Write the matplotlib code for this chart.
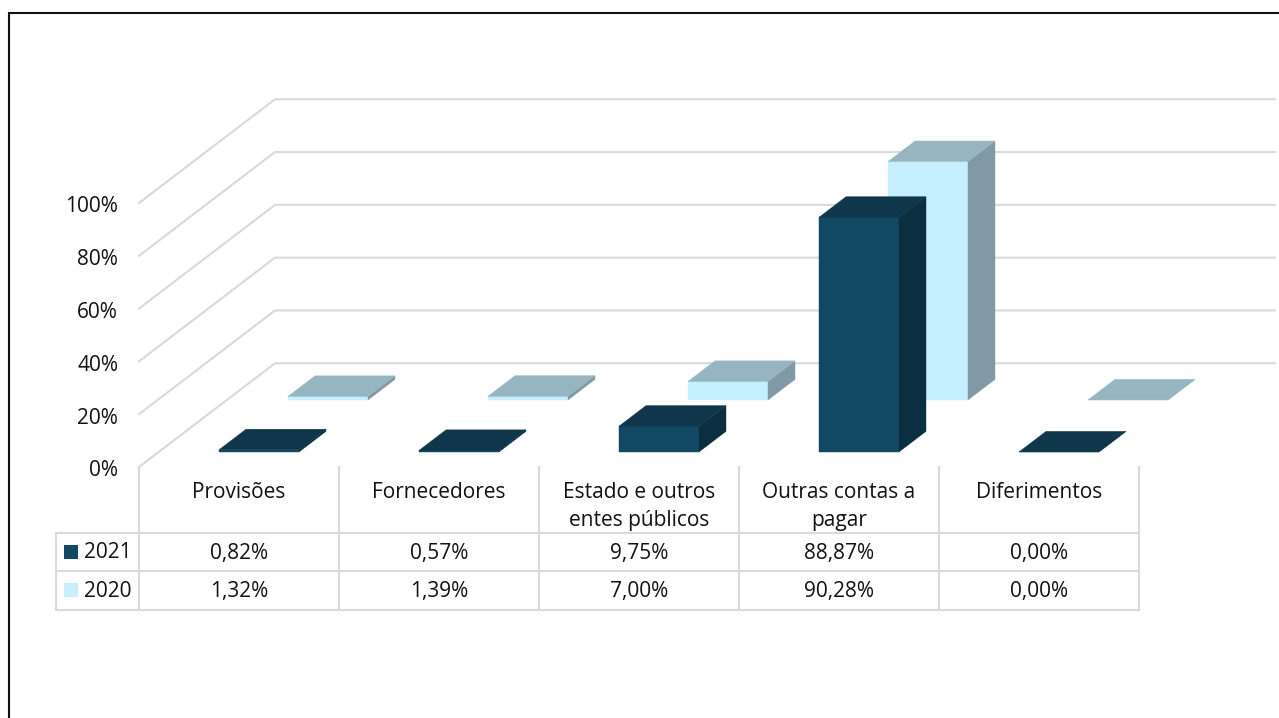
#!/usr/bin/env python
# -*- coding: utf-8 -*-
# 3D style clustered columns with a data table underneath

import matplotlib
matplotlib.use('Agg')
import matplotlib.pyplot as plt
from matplotlib.patches import Polygon, Rectangle
from matplotlib.transforms import ScaledTranslation

categories = ['Provisões', 'Fornecedores', 'Estado e outros\nentes públicos',
              'Outras contas a\npagar', 'Diferimentos']
series_names = ['2021', '2020']
values_2021 = [0.82, 0.57, 9.75, 88.87, 0.00]
values_2020 = [1.32, 1.39, 7.00, 90.28, 0.00]
yticks = [0, 20, 40, 60, 80, 100]

plt.rcParams['font.family'] = ['Open Sans', 'DejaVu Sans']
fontSize = 15
textCol = '#111111'
gridCol = '#d9d9d9'

W, H = 1279, 718
fig = plt.figure(figsize=(W/100, H/100), dpi=100, facecolor='white')

# front plane of the chart: 5 categories across, 0-100 % up
ax = fig.add_axes([139/W, (H-467)/H, 1000/W, 264/H])
ax.set_xlim(0, 5)
ax.set_ylim(0, 100)
ax.patch.set_visible(False)
for s in ax.spines.values():
    s.set_visible(False)
ax.set_xticks([])
ax.set_yticks(yticks)
ax.set_yticklabels([str(t) + '%' for t in yticks], fontsize=fontSize, color=textCol)
ax.tick_params(axis='y', length=0, pad=15)
# labels sit a touch below the line start
for lbl in ax.get_yticklabels():
    lbl.set_transform(lbl.get_transform() + ScaledTranslation(0, -0.015, fig.dpi_scale_trans))

# depth of the wall and of one column, in axis units
wallDx, wallDy = 0.68, 39.3
barDx, barDy = 0.135, 7.8
barW = 0.40


def draw_bar(x0, base, val, cols):
    x1 = x0 + barW
    top = base + val
    front = [(x0, base), (x1, base), (x1, top), (x0, top)]
    roof = [(x0, top), (x1, top), (x1+barDx, top+barDy), (x0+barDx, top+barDy)]
    side = [(x1, base), (x1+barDx, base+barDy), (x1+barDx, top+barDy), (x1, top)]
    for pts, c in zip([front, side, roof], cols):
        ax.add_patch(Polygon(pts, closed=True, facecolor=c, edgecolor=c,
                             linewidth=0.3, clip_on=False))


# wall gridlines
for t in yticks:
    ax.plot([0, wallDx, 5+wallDx], [t, t+wallDy, t+wallDy], color=gridCol,
            lw=1.5, clip_on=False, solid_joinstyle='miter', zorder=0)

cols2021 = ['#124863', '#0b2e41', '#0f364b']
cols2020 = ['#c5eeff', '#8199a4', '#97b5c0']
base2021, base2020 = 5.7, 25.4
off2021, off2020 = 0.40, 0.745

# back row first, front row covers it
for i, v in enumerate(values_2020):
    draw_bar(i + off2020, base2020, v, cols2020)
for i, v in enumerate(values_2021):
    draw_bar(i + off2021, base2021, v, cols2021)

# overlay in pixels for table and frame
ov = fig.add_axes([0, 0, 1, 1])
ov.set_xlim(0, W)
ov.set_ylim(H, 0)
ov.axis('off')
ov.patch.set_visible(False)

ov.plot([9, 9, W], [H, 13, 13], color='#111111', lw=1.5,
        solid_joinstyle='miter', clip_on=False)

colX = [139 + 200*k for k in range(6)]
rowY = [533, 571, 609.5]
for x in colX:
    ov.plot([x, x], [467, rowY[-1]], color=gridCol, lw=1.5)
ov.plot([56, 56], [rowY[0], rowY[-1]], color=gridCol, lw=1.5)
for y in rowY:
    ov.plot([56, colX[-1]], [y, y], color=gridCol, lw=1.5)

for i, name in enumerate(categories):
    ov.text(colX[i]+100, 482, name, ha='center', va='top', fontsize=fontSize,
            color=textCol, linespacing=1.44)


def fmt(v):
    return ('%.2f%%' % v).replace('.', ',')


rows = [values_2021, values_2020]
swatch = [cols2021[0], cols2020[0]]
for r, vals in enumerate(rows):
    yc = (rowY[r] + rowY[r+1]) / 2
    ov.add_patch(Rectangle((64, yc-7), 14, 14, facecolor=swatch[r], edgecolor='none'))
    ov.text(84, yc+1, series_names[r], ha='left', va='center', fontsize=fontSize, color=textCol)
    for i, v in enumerate(vals):
        ov.text(colX[i]+100, yc+1, fmt(v), ha='center', va='center',
                fontsize=fontSize, color=textCol)

fig.savefig('out.png', dpi=100)
